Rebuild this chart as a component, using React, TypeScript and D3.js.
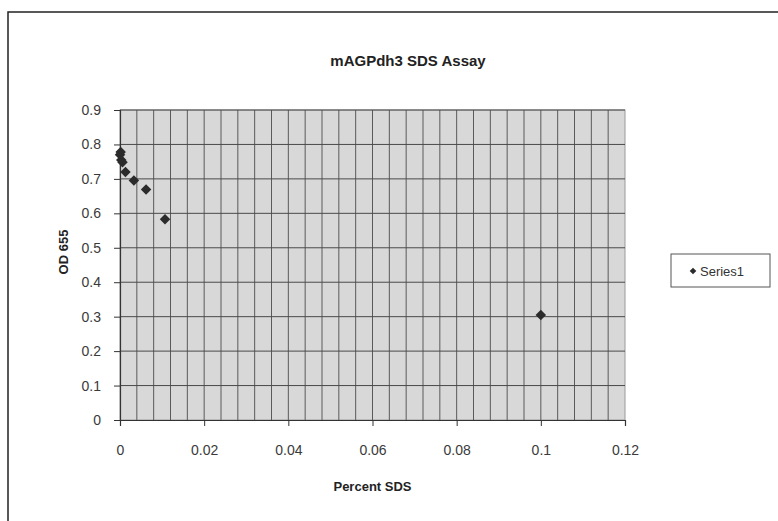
import React, { useEffect, useRef } from "react";
import * as d3 from "d3";

// Percent SDS (x) vs OD 655 (y)
const percentSds = [0, 0.00016, 0.0003, 0.0006, 0.0013, 0.0033, 0.0062, 0.0107, 0.1];
const od655 = [0.77, 0.778, 0.755, 0.748, 0.72, 0.695, 0.669, 0.583, 0.305];
const xTicks = [0, 0.02, 0.04, 0.06, 0.08, 0.1, 0.12];
const yTicks = [0, 0.1, 0.2, 0.3, 0.4, 0.5, 0.6, 0.7, 0.8, 0.9];
const seriesName = "Series1";

function App() {
  const svgRef = useRef<SVGSVGElement>(null);
  const width = 778;
  const height = 521;
  const plot = { left: 120, right: 625, top: 110, bottom: 420 };

  useEffect(() => {
    const svg = d3.select(svgRef.current);
    svg.selectAll("*").remove();
    const font = "'Liberation Sans', Arial, sans-serif";

    svg.append("rect").attr("width", width).attr("height", height).attr("fill", "#fff");

    // outer chart frame (only left and top edges visible in the photo)
    svg
      .append("path")
      .attr("d", `M8,${height} L8,12 L${width},12`)
      .attr("fill", "none")
      .attr("stroke", "#222")
      .attr("stroke-width", 1.5);

    const x = d3.scaleLinear().domain([0, 0.12]).range([plot.left, plot.right]);
    const y = d3.scaleLinear().domain([0, 0.9]).range([plot.bottom, plot.top]);

    // plot area
    svg
      .append("rect")
      .attr("x", plot.left)
      .attr("y", plot.top)
      .attr("width", plot.right - plot.left)
      .attr("height", plot.bottom - plot.top)
      .attr("fill", "#d8d8d8")
      .attr("stroke", "#9a9a9a");

    // minor vertical gridlines every 0.004
    const vGrid = d3.range(1, 30).map((i) => i * 0.004);
    svg
      .append("g")
      .selectAll("line")
      .data(vGrid)
      .enter()
      .append("line")
      .attr("x1", (d) => x(d))
      .attr("x2", (d) => x(d))
      .attr("y1", plot.top)
      .attr("y2", plot.bottom)
      .attr("stroke", "#5a5a5a")
      .attr("stroke-width", 1);

    svg
      .append("g")
      .selectAll("line")
      .data(yTicks.slice(1))
      .enter()
      .append("line")
      .attr("x1", plot.left)
      .attr("x2", plot.right)
      .attr("y1", (d) => y(d))
      .attr("y2", (d) => y(d))
      .attr("stroke", "#4a4a4a")
      .attr("stroke-width", 1);

    // axes
    const yAxis = svg
      .append("g")
      .attr("transform", `translate(${plot.left},0)`)
      .call(d3.axisLeft(y).tickValues(yTicks).tickSize(6).tickPadding(13).tickFormat((d) => String(d)));
    const xAxis = svg
      .append("g")
      .attr("transform", `translate(0,${plot.bottom})`)
      .call(d3.axisBottom(x).tickValues(xTicks).tickSize(6).tickPadding(19).tickFormat((d) => String(d)));

    [yAxis, xAxis].forEach((g) => {
      g.select(".domain").attr("stroke", "#333").attr("stroke-width", 1.2);
      g.selectAll(".tick line").attr("stroke", "#333");
      g.selectAll("text")
        .attr("fill", "#3a3a3a")
        .style("font-family", font)
        .style("font-size", "14px");
    });

    // points (Excel-style square diamonds)
    const diamond = d3.symbol().type(d3.symbolSquare).size(55);
    svg
      .append("g")
      .selectAll("path")
      .data(percentSds.map((v, i) => ({ x: v, y: od655[i] })))
      .enter()
      .append("path")
      .attr("d", diamond)
      .attr("transform", (d) => `translate(${x(d.x)},${y(d.y)}) rotate(45)`)
      .attr("fill", "#2b2b2b");

    // titles
    svg
      .append("text")
      .attr("x", 408)
      .attr("y", 66)
      .attr("text-anchor", "middle")
      .style("font-family", font)
      .style("font-size", "15px")
      .style("font-weight", "bold")
      .attr("fill", "#222")
      .text("mAGPdh3 SDS Assay");

    svg
      .append("text")
      .attr("x", (plot.left + plot.right) / 2)
      .attr("y", 491)
      .attr("text-anchor", "middle")
      .style("font-family", font)
      .style("font-size", "13px")
      .style("font-weight", "bold")
      .attr("fill", "#222")
      .text("Percent SDS");

    svg
      .append("text")
      .attr("transform", `translate(68,252) rotate(-90)`)
      .attr("text-anchor", "middle")
      .style("font-family", font)
      .style("font-size", "13px")
      .style("font-weight", "bold")
      .attr("fill", "#222")
      .text("OD 655");

    // legend
    const legend = svg.append("g").attr("transform", "translate(671,254)");
    legend
      .append("rect")
      .attr("width", 99)
      .attr("height", 33)
      .attr("fill", "#fff")
      .attr("stroke", "#555");
    legend
      .append("path")
      .attr("d", d3.symbol().type(d3.symbolSquare).size(22))
      .attr("transform", "translate(22,17) rotate(45)")
      .attr("fill", "#2b2b2b");
    legend
      .append("text")
      .attr("x", 29)
      .attr("y", 21.5)
      .style("font-family", font)
      .style("font-size", "13px")
      .attr("fill", "#333")
      .text(seriesName);
  }, []);

  return (
    <svg
      ref={svgRef}
      width={width}
      height={height}
      style={{ position: "absolute", left: 0, top: 0 }}
    ></svg>
  );
}

export default App;
